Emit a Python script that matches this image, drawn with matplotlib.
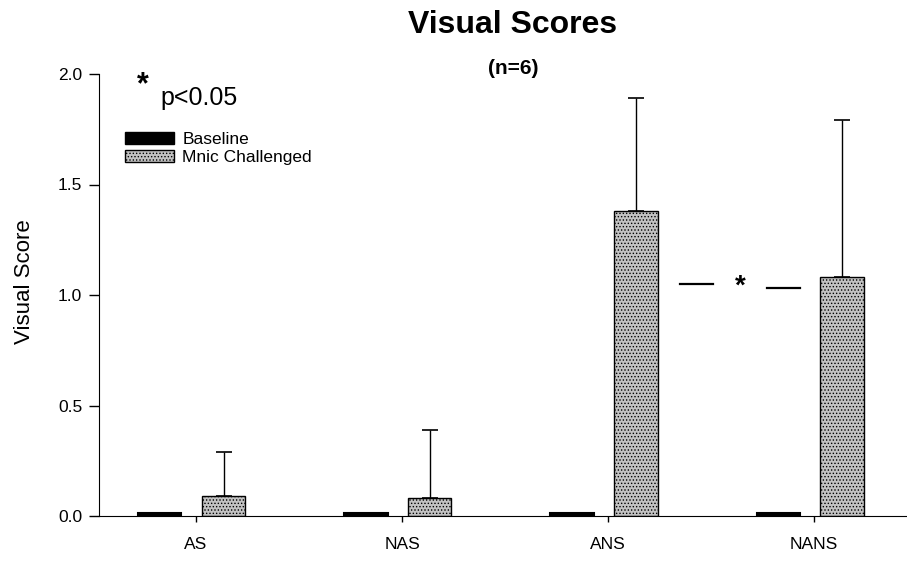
import numpy as np
import matplotlib.pyplot as plt
from matplotlib.patches import Patch

plt.rcParams['font.family'] = ['Liberation Sans', 'DejaVu Sans']
plt.rcParams['hatch.color'] = '#7a7a7a'
plt.rcParams['hatch.linewidth'] = 0.6

# data
groups = ['AS', 'NAS', 'ANS', 'NANS']
baseline = [0.015, 0.015, 0.015, 0.015]
challenged = [0.09, 0.08, 1.38, 1.08]
challenged_sd = [0.20, 0.31, 0.51, 0.71]

x = np.arange(len(groups))
w = 0.21
gray = '#c2c2c2'

fig = plt.figure(figsize=(9.07, 5.65), dpi=100)
ax = fig.add_axes([99/907, 1 - 516/565, (907-99)/907, (516-74)/565])

ax.bar(x - 0.175, baseline, w, color='black', edgecolor='black', linewidth=1.5)
ax.bar(x + 0.135, challenged, w, color=gray, edgecolor='black',
       linewidth=1.0, hatch='.....')
ax.errorbar(x + 0.135, challenged, yerr=[np.zeros(4), challenged_sd],
            fmt='none', ecolor='black', elinewidth=1.0, capsize=6, capthick=1.2)

ax.set_xlim(-0.47, 3.45)
ax.set_ylim(0, 2.0)
ax.set_xticks(x)
ax.set_xticklabels(groups, fontsize=12.5)
ax.set_yticks([0, 0.5, 1.0, 1.5, 2.0])
ax.set_yticklabels(['0.0', '0.5', '1.0', '1.5', '2.0'], fontsize=12.5)
ax.tick_params(axis='x', length=4, width=1, pad=11)
ax.tick_params(axis='y', length=7, width=1, pad=5)
ax.spines['top'].set_visible(False)
ax.spines['right'].set_visible(False)
ax.set_ylabel('Visual Score', fontsize=16)
ax.yaxis.set_label_coords(-64/808, 0.53)

# significance mark between ANS and NANS
ax.plot([2.35, 2.51], [1.05, 1.05], color='black', lw=1.6)
ax.plot([2.77, 2.93], [1.03, 1.03], color='black', lw=1.6)
ax.text(2.64, 1.04, '*', fontsize=20, fontweight='bold', ha='center', va='center')

fig.text(513/907, 1 - 25/565, 'Visual Scores', fontsize=23, fontweight='bold',
         ha='center', va='center')
fig.text(513/907, 1 - 68/565, '(n=6)', fontsize=15, fontweight='bold',
         ha='center', va='center')

fig.text(143/907, 1 - 85/565, '*', fontsize=22, fontweight='bold',
         ha='center', va='center')
fig.text(160/907, 1 - 98/565, 'p<0.05', fontsize=18, ha='left', va='center')

handles = [Patch(facecolor='black', edgecolor='black'),
           Patch(facecolor=gray, edgecolor='black', hatch='.....')]
fig.legend(handles, ['Baseline', 'Mnic Challenged'], loc='upper left',
           bbox_to_anchor=(125/907, 1 - 132/565), frameon=False, fontsize=12.5,
           handlelength=2.8, handleheight=0.7, handletextpad=0.5,
           labelspacing=0.15, borderaxespad=0, borderpad=0)

fig.savefig('out.png', dpi=100)
